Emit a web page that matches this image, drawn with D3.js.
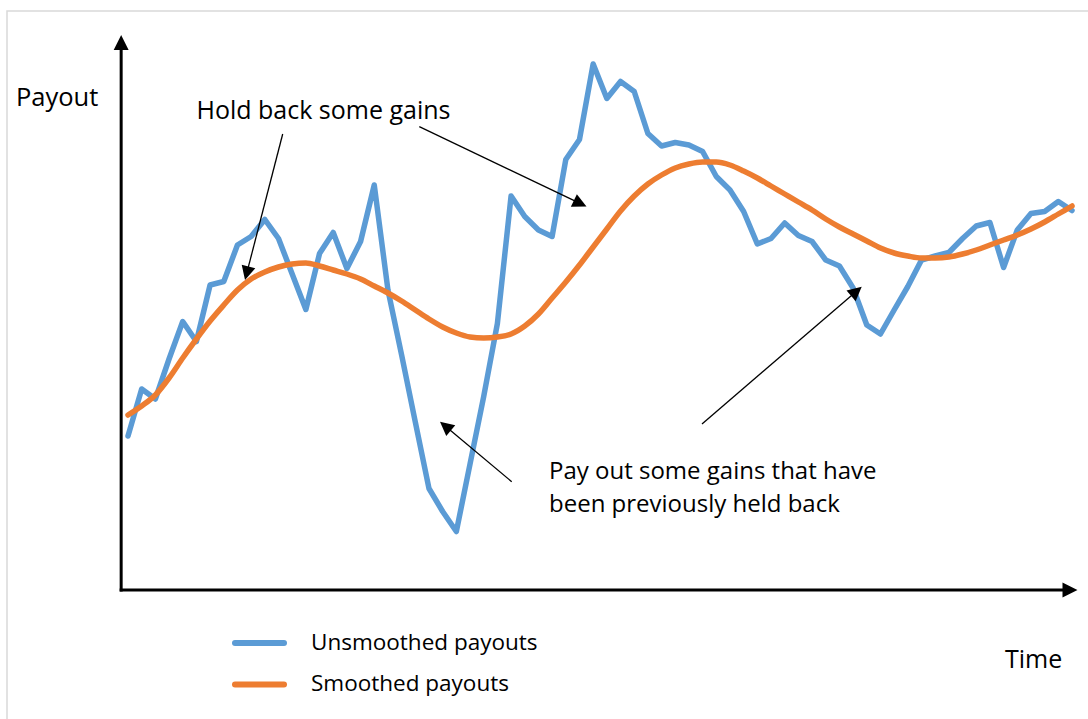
<!DOCTYPE html>
<html><head><meta charset="utf-8">
<script src="https://cdn.jsdelivr.net/npm/d3@7"></script>
<style>
body{margin:0;background:#fff}
svg{display:block}
text{font-family:"Open Sans",sans-serif;fill:#000}
</style>
</head><body>
<svg id="chart" width="1088" height="719"></svg>
<script>
// ---- data ----
const periods = d3.range(70);
const unsmoothed = [
  30.8, 40.2, 38.2, 46.2, 53.7, 49.7, 61.0, 61.7, 69.0, 70.7,
  74.1, 70.3, 63.2, 56.1, 67.3, 71.5, 64.3, 69.7, 81.0, 60.0,
  47.0, 33.6, 20.3, 15.7, 11.7, 25.2, 38.7, 53.3, 78.8, 74.7,
  72.0, 70.7, 86.1, 90.1, 105.2, 98.3, 101.7, 99.7, 91.3, 88.8,
  89.5, 89.0, 87.7, 82.7, 80.0, 75.7, 69.2, 70.3, 73.4, 70.9,
  69.7, 66.0, 64.8, 60.4, 53.0, 51.2, 56.0, 60.7, 66.0, 66.8,
  67.5, 70.3, 72.8, 73.5, 64.5, 72.0, 75.3, 75.7, 77.7, 75.9
];
const smoothed = [
  35.0, 36.8, 39.0, 42.4, 46.4, 50.2, 53.8, 57.0, 60.0, 62.2,
  63.6, 64.6, 65.2, 65.4, 64.8, 64.0, 63.2, 62.2, 60.8, 59.4,
  57.8, 56.0, 54.2, 52.6, 51.4, 50.6, 50.4, 50.6, 51.2, 52.8,
  55.2, 58.4, 61.6, 65.0, 68.6, 72.2, 75.8, 78.8, 81.2, 83.0,
  84.4, 85.2, 85.6, 85.6, 85.0, 83.8, 82.4, 80.8, 79.2, 77.6,
  76.0, 74.2, 72.6, 71.2, 69.8, 68.4, 67.4, 66.8, 66.4, 66.4,
  66.6, 67.2, 68.0, 69.0, 70.0, 71.0, 72.2, 73.6, 75.2, 76.8
];
const seriesNames = ["Unsmoothed payouts", "Smoothed payouts"];
const seriesColors = ["#5B9BD5", "#ED7D31"];
const axisTitles = ["Payout", "Time"];
const noteHold = ["Hold back some gains"];
const notePay = ["Pay out some gains that have", "been previously held back"];

// ---- layout ----
const svg = d3.select("#chart");
const x = d3.scaleLinear().domain([0, 69]).range([128, 1072]);
const y = d3.scaleLinear().domain([0, 110]).range([590, 40]);

// frame
svg.append("rect").attr("x", 7).attr("y", 11).attr("width", 1200).attr("height", 800)
  .attr("fill", "none").attr("stroke", "#d9d9d9").attr("stroke-width", 1.5);

function arrow(g, x1, y1, x2, y2, len, hw, sw) {
  const dx = x2 - x1, dy = y2 - y1, L = Math.hypot(dx, dy);
  const ux = dx / L, uy = dy / L;
  const bx = x2 - ux * len, by = y2 - uy * len;
  g.append("line").attr("x1", x1).attr("y1", y1).attr("x2", bx + ux).attr("y2", by + uy)
    .attr("stroke", "#000").attr("stroke-width", sw);
  g.append("path")
    .attr("d", `M${x2},${y2}L${bx - uy * hw},${by + ux * hw}L${bx + uy * hw},${by - ux * hw}Z`)
    .attr("fill", "#000");
}

// axes (no ticks)
const axG = svg.append("g");
const x0 = x(-0.5), yb = y(0);
arrow(axG, x0, yb + 1.5, x0, y(111), 15, 7.5, 3);
arrow(axG, x0 - 1.5, yb, x(69.4), yb, 15, 7.5, 3);

// series
svg.append("path").datum(unsmoothed)
  .attr("d", d3.line().x((d, i) => x(periods[i])).y(d => y(d)).curve(d3.curveLinear))
  .attr("fill", "none").attr("stroke", seriesColors[0]).attr("stroke-width", 5.5)
  .attr("stroke-linejoin", "round").attr("stroke-linecap", "round");
svg.append("path").datum(smoothed)
  .attr("d", d3.line().x((d, i) => x(periods[i])).y(d => y(d)).curve(d3.curveMonotoneX))
  .attr("fill", "none").attr("stroke", seriesColors[1]).attr("stroke-width", 5.5)
  .attr("stroke-linejoin", "round").attr("stroke-linecap", "round");

// annotations
const an = svg.append("g");
arrow(an, 282.7, 134, 245, 280, 14, 7, 1.3);
arrow(an, 419.3, 126.7, 586.5, 206.5, 14, 7, 1.3);
arrow(an, 511.7, 481.7, 440, 421.7, 14, 7, 1.3);
arrow(an, 702, 424, 861.7, 286.7, 14, 7, 1.3);

svg.append("text").attr("x", 196.5).attr("y", 119).attr("font-size", 25).text(noteHold[0]);
svg.selectAll("text.pay").data(notePay).enter().append("text").attr("class", "pay")
  .attr("x", 549).attr("y", (d, i) => 478.5 + i * 33).attr("font-size", 24).text(d => d);

// axis titles
svg.append("text").attr("x", 16).attr("y", 106).attr("font-size", 25.5).text(axisTitles[0]);
svg.append("text").attr("x", 1005).attr("y", 668).attr("font-size", 25).text(axisTitles[1]);

// legend
const lg = svg.append("g");
seriesNames.forEach((name, i) => {
  const yy = 643 + i * 41.5;
  lg.append("line").attr("x1", 235).attr("x2", 284).attr("y1", yy).attr("y2", yy)
    .attr("stroke", seriesColors[i]).attr("stroke-width", 6).attr("stroke-linecap", "round");
  lg.append("text").attr("x", 311).attr("y", yy + 6.5).attr("font-size", 22.5).text(name);
});
</script>
</body></html>
